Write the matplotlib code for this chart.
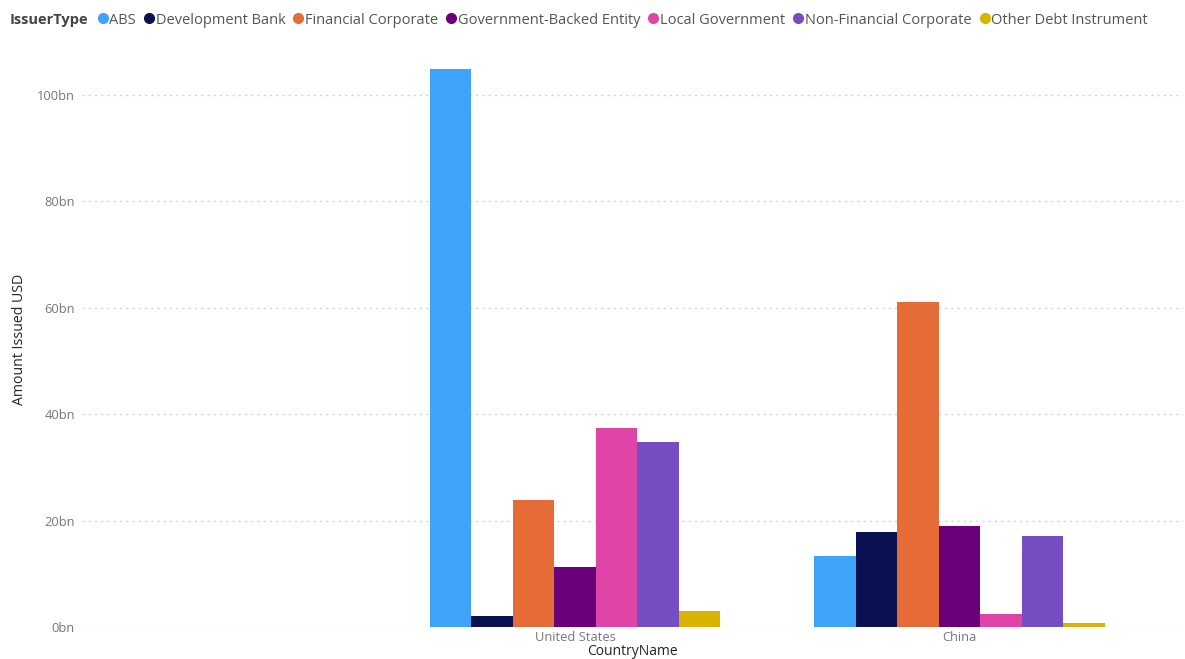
import numpy as np
from matplotlib import pyplot as plt
from matplotlib.lines import Line2D

plt.rcParams['font.family'] = ['Open Sans', 'DejaVu Sans']

countries = ['United States', 'China']
issuer_types = ['ABS', 'Development Bank', 'Financial Corporate', 'Government-Backed Entity',
                'Local Government', 'Non-Financial Corporate', 'Other Debt Instrument']
colors = ['#3FA3FA', '#0B1150', '#E66C37', '#6B007B', '#E044A7', '#744EC2', '#D9B300']

# amount issued in bn USD, one list per issuer type: [United States, China]
abs_amt = [104.8, 13.4]
dev_bank = [2.0, 17.9]
fin_corp = [23.9, 61.0]
gov_backed = [11.3, 18.9]
local_gov = [37.4, 2.4]
non_fin = [34.8, 17.1]
other_debt = [3.0, 0.7]
values = [abs_amt, dev_bank, fin_corp, gov_backed, local_gov, non_fin, other_debt]

fig = plt.figure(figsize=(11.85, 6.59), dpi=100)
ax = fig.add_axes([0.069, 0.0486, 0.929, 0.872])

x = np.arange(len(countries))
w = 0.108
n = len(issuer_types)
for i, (vals, c) in enumerate(zip(values, colors)):
    ax.bar(x + (i - (n - 1) / 2) * w, vals, w, color=c, zorder=3)

ax.set_xlim(-1.283, 1.58)
ax.set_ylim(0, 108)
ax.set_yticks([0, 20, 40, 60, 80, 100])
ax.set_yticklabels([f'{v}bn' for v in [0, 20, 40, 60, 80, 100]])
ax.set_xticks(x)
ax.set_xticklabels(countries)
ax.tick_params(length=0, labelsize=9.3, labelcolor='#777777', pad=5)
ax.tick_params(axis='x', pad=3)
ax.grid(axis='y', color='#d2d2d2', linestyle=(0, (1.5, 3)), linewidth=1, zorder=0)
for s in ax.spines.values():
    s.set_visible(False)

ax.set_ylabel('Amount Issued USD', fontsize=10.2, color='#252423', labelpad=7)
ax.set_xlabel('CountryName', fontsize=10, color='#252423', labelpad=0)

fig.text(10 / 1185, 1 - 20 / 659, 'IssuerType', fontsize=10.5, fontweight='bold',
         color='#444444', va='center', ha='left')
handles = [Line2D([], [], marker='o', linestyle='', markersize=7, color=c) for c in colors]
fig.legend(handles, issuer_types, loc='center left', bbox_to_anchor=(91 / 1185, 1 - 20 / 659),
           ncol=n, frameon=False, fontsize=10.5, borderpad=0, handlelength=0.6,
           handletextpad=0.15, columnspacing=0.6, labelcolor='#555555')

fig.savefig('out.png', dpi=100)
